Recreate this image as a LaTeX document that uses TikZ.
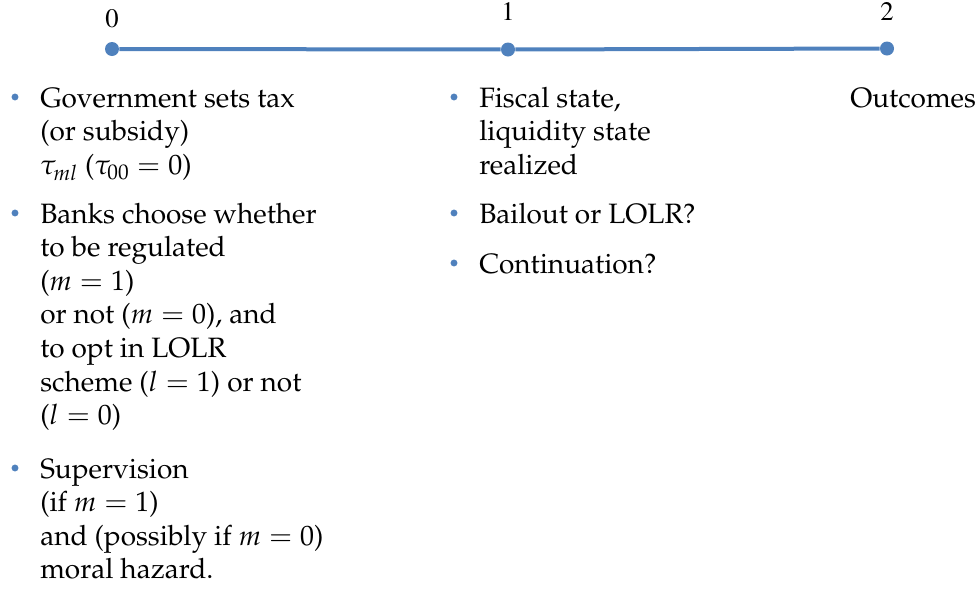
\documentclass[tikz,border=0pt]{standalone}
\usepackage[T1]{fontenc}
\usepackage{mathpazo}
\usetikzlibrary{positioning}
\definecolor{lineblue}{RGB}{79,129,189}
\newcommand{\timesnum}{\fontsize{20}{22}\usefont{T1}{ptm}{m}{n}}
\tikzset{
  tpoint/.style={circle,fill=lineblue,minimum size=10.5pt,inner sep=0pt},
  daylbl/.style={font=\timesnum,inner sep=0pt},
  evtxt/.style={anchor=base west,align=left,inner sep=0pt},
  blt/.style={circle,fill=lineblue,minimum size=5.2pt,inner sep=0pt},
}
\begin{document}
\begin{tikzpicture}[x=0.75pt,y=-0.75pt,every node/.style={font=\fontsize{21}{25.2}\selectfont}]
  \useasboundingbox (0,0) rectangle (979,590);
  % time line
  \node[tpoint] (t0) at (112,49) {};
  \node[tpoint] (t1) at (508,49.5) {};
  \node[tpoint] (t2) at (887,48.5) {};
  \draw[lineblue,line width=3pt] (t0) -- (t1) -- (t2);
  \node[daylbl,above=10pt of t0] (l0) {\timesnum 0};
  \node[daylbl,above=16pt of t1] (l1) {\timesnum 1};
  \node[daylbl,above=15pt of t2] (l2) {\timesnum 2};
  % date 0 (base = last line)
  \node[evtxt] (gov) at (40,174.2) {Government sets tax\\(or subsidy)\\\(\tau_{ml}\) (\(\tau_{00} = 0\))};
  \node[evtxt] (banks) at (40,424.6) {Banks choose whether\\to be regulated\\(\(m = 1\))\\or not (\(m = 0\)), and\\to opt in LOLR\\scheme (\(l = 1\)) or not\\(\(l = 0\))};
  \node[evtxt] (sup) at (40,578.8) {Supervision\\(if \(m = 1\))\\and (possibly if \(m = 0\))\\moral hazard.};
  % date 1
  \node[evtxt] (fisc) at (479,174.2) {Fiscal state,\\liquidity state\\realized};
  \node[evtxt] (bail) at (479,223) {Bailout or LOLR?};
  \node[evtxt] (cont) at (479,273) {Continuation?};
  % date 2
  \node[evtxt] (out) at (850,107) {Outcomes};
  % bullets, on the first line
  \foreach \n/\k in {gov/2,banks/6,sup/3,fisc/2,bail/0,cont/0}
    \node[blt] (\n-b) at ([xshift=-18.75pt,yshift=7.5pt+\k*25.2pt]\n.base west) {};
\end{tikzpicture}
\end{document}
